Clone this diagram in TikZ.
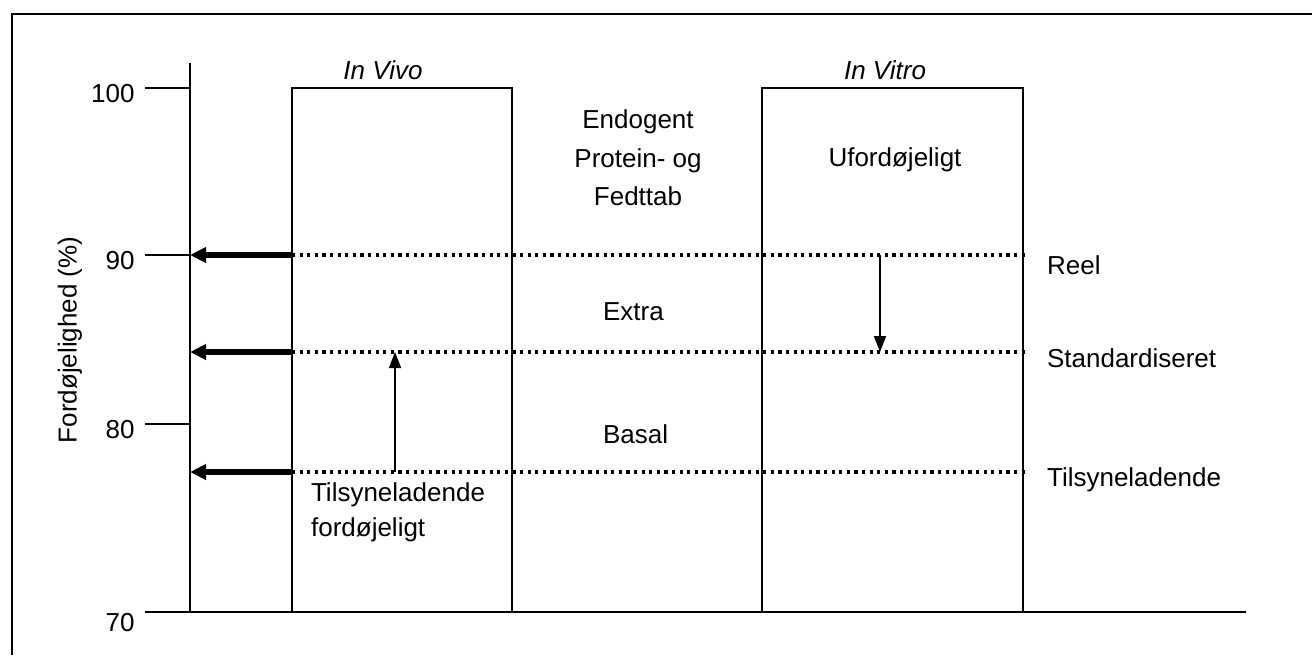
\documentclass[tikz,border=0pt]{standalone}
\usepackage{fontspec}
\setmainfont{Liberation Sans}
\usetikzlibrary{arrows.meta}
\begin{document}
\begin{tikzpicture}[x=0.5pt, y=-0.5pt, font=\fontsize{13}{15}\selectfont,
                    axis/.style = {line width=1pt},
                    level/.style = {line width=1.6pt, dash pattern=on 1.6pt off 2.2pt},
                    readout/.style = {line width=2.6pt, -{Triangle[length=8pt,width=7.5pt]}},
                    lift/.style = {line width=0.8pt, -{Triangle[length=8pt,width=6pt]}},
                    ticklabel/.style = {anchor=east, inner sep=0pt}]
                    \useasboundingbox (0,0) rectangle (1312,655);
                    % frame
                    \draw[line width=1.2pt] (12,655) -- (12,14) -- (1312,14);
                    % axes
                    \coordinate (o) at (190,612);
                    \coordinate (top) at (190,63);
                    \coordinate (end) at (1246,612);
                    \draw[axis] (top) -- (o);
                    \draw[axis] (145,612) -- (end);
                    \coordinate (y100) at (190,88);
                    \coordinate (y90) at (190,255);
                    \coordinate (y84) at (190,352);
                    \coordinate (y80) at (190,424);
                    \coordinate (y77) at (190,472);
                    \draw[axis] (145,88) -- (y100);
                    \draw[axis] (145,255) -- (y90);
                    \draw[axis] (145,424) -- (y80);
                    \node[ticklabel] (l100) at (135,94) {100};
                    \node[ticklabel] (l90) at (135,261) {90};
                    \node[ticklabel] (l80) at (135,430) {80};
                    \node[ticklabel] (l70) at (135,623) {70};
                    \node[rotate=90] (ylabel) at (70,340) {Fordøjelighed (\%)};
                    % boxes
                    \coordinate (vivoSW) at (292,612);
                    \coordinate (vivoNE) at (512,88);
                    \coordinate (vitroSW) at (762,612);
                    \coordinate (vitroNE) at (1023,88);
                    \draw[axis] (vivoSW) rectangle (vivoNE);
                    \draw[axis] (vitroSW) rectangle (vitroNE);
                    \node[font=\fontsize{13}{15}\selectfont\itshape] (vivo) at (383,70) {In Vivo};
                    \node[font=\fontsize{13}{15}\selectfont\itshape] (vitro) at (885,70) {In Vitro};
                    % levels
                    \coordinate (reelA) at (292,255);
                    \coordinate (reelB) at (1025,255);
                    \coordinate (stdA) at (292,352);
                    \coordinate (stdB) at (1025,352);
                    \coordinate (tilA) at (292,472);
                    \coordinate (tilB) at (1025,472);
                    \draw[level] (reelA) -- (reelB);
                    \draw[level] (stdA) -- (stdB);
                    \draw[level] (tilA) -- (tilB);
                    \draw[readout] (reelA) -- (y90);
                    \draw[readout] (stdA) -- (y84);
                    \draw[readout] (tilA) -- (y77);
                    \draw[lift] (395,472) -- (395,352);
                    \draw[lift] (880,255) -- (880,352);
                    % texts
                    \node[align=center] (endo) at (638,158) {Endogent\\[4.3pt]Protein- og\\[4.3pt]Fedttab};
                    \node (ufor) at (895,160) {Ufordøjeligt};
                    \node[anchor=west] (extra) at (596,312) {Extra};
                    \node[anchor=west] (basal) at (596,434) {Basal};
                    \node[align=left, anchor=west] (tilfor) at (304,512) {Tilsyneladende\\[2.5pt]fordøjeligt};
                    \node[anchor=west] (reel) at (1040,265) {Reel};
                    \node[anchor=west] (std) at (1040,358) {Standardiseret};
                    \node[anchor=west] (til) at (1040,480) {Tilsyneladende};
\end{tikzpicture}
\end{document}
